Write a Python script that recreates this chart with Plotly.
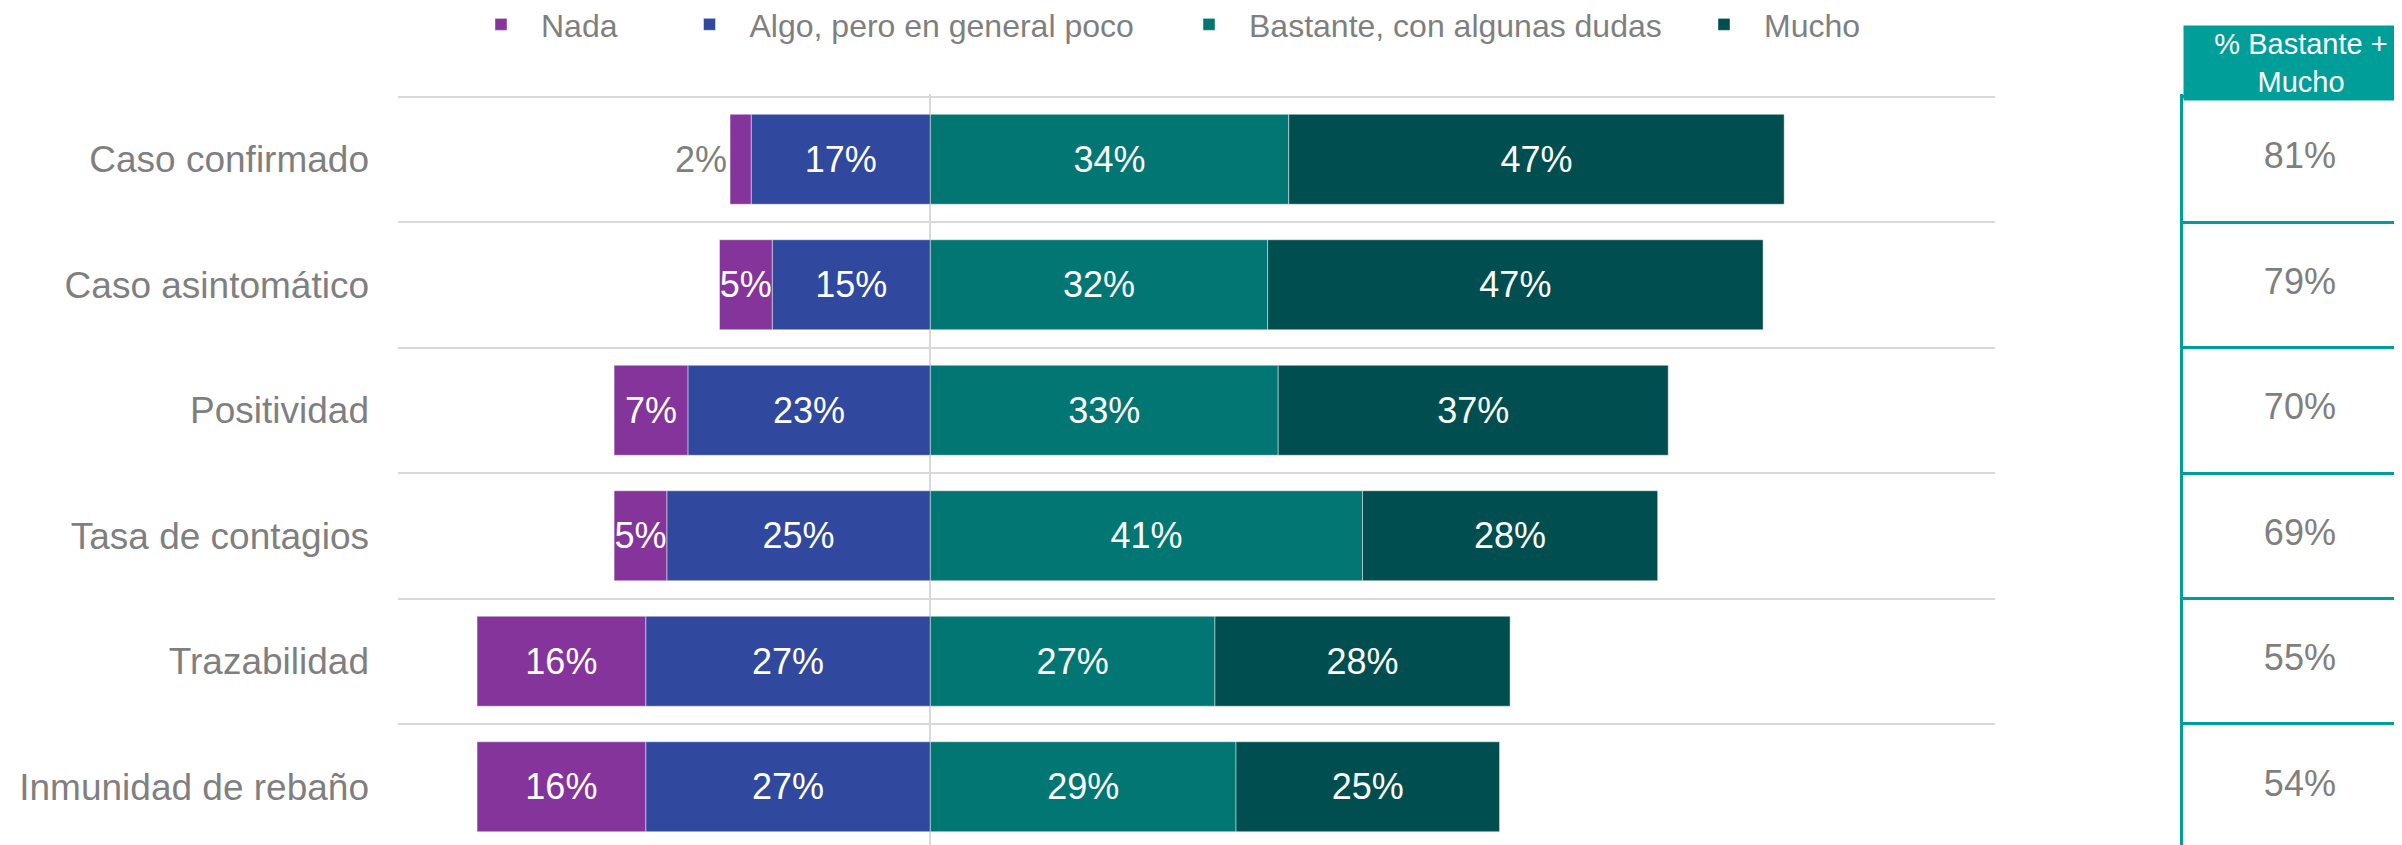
import plotly.graph_objects as go

# datos
categorias = ["Caso confirmado", "Caso asintomático", "Positividad",
              "Tasa de contagios", "Trazabilidad", "Inmunidad de rebaño"]

nada = [2, 5, 7, 5, 16, 16]
algo = [17, 15, 23, 25, 27, 27]
bastante = [34, 32, 33, 41, 27, 29]
mucho = [47, 47, 37, 28, 28, 25]

bastante_mucho = [81, 79, 70, 69, 55, 54]

nombres = ["Nada", "Algo, pero en general poco", "Bastante, con algunas dudas", "Mucho"]
colores = ["#84349a", "#30489d", "#027672", "#004e4f"]

gris = "#7f7f7f"
teal = "#009e98"
fuente = "Liberation Sans, Arial, sans-serif"

fig = go.Figure()

# barras negativas: primero "algo" para que quede pegado al cero
fig.add_trace(go.Bar(y=categorias, x=[-v for v in algo], name=nombres[1], orientation="h",
                     marker_color=colores[1],
                     text=[f"{v}%" for v in algo], textposition="inside",
                     legend="legend2"))
fig.add_trace(go.Bar(y=categorias, x=[-v for v in nada], name=nombres[0], orientation="h",
                     marker_color=colores[0],
                     text=[f"{v}%" for v in nada],
                     textposition=["outside", "inside", "inside", "inside", "inside", "inside"],
                     legend="legend"))
# positivas
fig.add_trace(go.Bar(y=categorias, x=bastante, name=nombres[2], orientation="h",
                     marker_color=colores[2],
                     text=[f"{v}%" for v in bastante], textposition="inside",
                     legend="legend3"))
fig.add_trace(go.Bar(y=categorias, x=mucho, name=nombres[3], orientation="h",
                     marker_color=colores[3],
                     text=[f"{v}%" for v in mucho], textposition="inside",
                     legend="legend4"))

fig.update_traces(marker_line=dict(width=1, color="rgba(255,255,255,0.45)"),
                  insidetextanchor="middle", textangle=0, constraintext="none",
                  insidetextfont=dict(size=36, color="white", family=fuente),
                  outsidetextfont=dict(size=36, color=gris, family=fuente),
                  hoverinfo="skip", selector=dict(type="bar"))

# tabla % bastante + mucho
fig.add_trace(go.Scatter(x=[0] * len(categorias), y=categorias, mode="text",
                         text=[f"{v}%" for v in bastante_mucho],
                         textfont=dict(size=36, color=gris, family=fuente),
                         xaxis="x2", yaxis="y2", showlegend=False, hoverinfo="skip"))

#ejes
fig.update_layout(
    xaxis=dict(domain=[0.16236, 0.82723], range=[-50.5, 101], showgrid=False,
               showticklabels=False, zeroline=True, zerolinecolor="#d9d9d9", zerolinewidth=2),
    yaxis=dict(domain=[0, 0.8982], type="category", categoryorder="array",
               categoryarray=categorias, range=[5.528, -0.52], tickson="boundaries",
               showgrid=True, gridcolor="#d9d9d9", gridwidth=2, ticks="",
               ticklabelstandoff=28, tickfont=dict(size=37, color=gris, family=fuente)),
    xaxis2=dict(domain=[0.9055, 1], range=[-1.03, 0.97], anchor="y2", visible=False),
    yaxis2=dict(domain=[0, 0.8982], anchor="x2", type="category", categoryorder="array",
                categoryarray=categorias, range=[5.528, -0.52], tickson="boundaries",
                showgrid=True, gridcolor=teal, gridwidth=2.5, ticks="", showticklabels=False,
                showline=True, linecolor=teal, linewidth=2.5, zeroline=False),
)

# leyendas
ley = dict(orientation="h", y=0.9804, yanchor="middle", xanchor="left", itemwidth=70,
           font=dict(size=32, color=gris, family=fuente), bgcolor="rgba(0,0,0,0)")
fig.update_layout(
    legend=dict(ley, x=0.18859),
    legend2=dict(ley, x=0.27540),
    legend3=dict(ley, x=0.48335),
    legend4=dict(ley, x=0.69775),
)

# cabecera de la tabla
fig.add_annotation(text="% Bastante +<br>Mucho", xref="paper", yref="paper",
                   x=0.9055, y=0.97988, xanchor="left", yanchor="top",
                   width=234, height=74, bgcolor=teal, borderpad=0, showarrow=False,
                   font=dict(size=29, color="white", family=fuente))

fig.update_layout(width=2402, height=845,
                  margin=dict(l=0, r=0, t=0, b=0, autoexpand=False),
                  barmode="relative", bargap=0.283,
                  plot_bgcolor="white", paper_bgcolor="white",
                  font=dict(family=fuente, color=gris),
                  uniformtext=dict(minsize=36, mode="show"))

fig.write_html("out.html")
